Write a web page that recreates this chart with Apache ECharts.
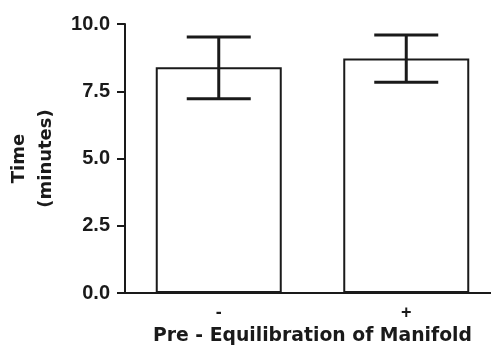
<!DOCTYPE html>
<html>
<head>
<meta charset="utf-8">
<script src="https://cdn.jsdelivr.net/npm/echarts@6/dist/echarts.min.js"></script>
<style>html,body{margin:0;padding:0;background:#fff}#c{width:491px;height:347px}</style>
</head>
<body>
<div id="c"></div>
<script>
var categories = ['-', '+'];
var means = [8.39, 8.72];
var errLow = [7.22, 7.83];
var errHigh = [9.52, 9.59];
var yTicks = [0, 2.5, 5, 7.5, 10];

var FONT = '"Liberation Sans", Arial, sans-serif';
var TFONT = '"DejaVu Sans", sans-serif';
var INK = '#1a1a1a';

var chart = echarts.init(document.getElementById('c'));
chart.setOption({
  animation: false,
  grid: { left: 125, top: 24, width: 375, height: 269, outerBoundsMode: 'none', containLabel: false },
  xAxis: {
    type: 'category',
    data: categories,
    name: 'Pre - Equilibration of Manifold',
    nameLocation: 'middle',
    nameGap: 34,
    nameTextStyle: { fontFamily: TFONT, fontWeight: 'bold', fontSize: 18.8, color: INK },
    axisLine: { lineStyle: { color: INK, width: 2 } },
    axisTick: { alignWithLabel: true, length: 7, lineStyle: { color: INK, width: 2 } },
    axisLabel: { fontFamily: FONT, fontWeight: 'bold', fontSize: 18, color: INK, margin: 11 }
  },
  yAxis: {
    type: 'value',
    min: yTicks[0], max: yTicks[yTicks.length - 1], interval: 2.5,
    name: 'Time\n(minutes)',
    nameLocation: 'middle',
    nameGap: 61,
    nameTextStyle: { fontFamily: TFONT, fontWeight: 'bold', fontSize: 18, color: INK, lineHeight: 27 },
    axisLine: { show: true, onZero: false, lineStyle: { color: INK, width: 2 } },
    axisTick: { show: true, length: 8, lineStyle: { color: INK, width: 2 } },
    splitLine: { show: false },
    axisLabel: { fontFamily: FONT, fontWeight: 'bold', fontSize: 20, color: INK, margin: 15,
      formatter: function (v) { return v.toFixed(1); } }
  },
  series: [
    {
      type: 'bar',
      data: means,
      barWidth: 126,
      itemStyle: { color: '#fff', borderColor: INK, borderWidth: 2 }
    },
    {
      type: 'custom',
      data: categories.map(function (c, i) { return [i, errLow[i], errHigh[i]]; }),
      renderItem: function (params, api) {
        var lo = api.coord([api.value(0), api.value(1)]);
        var hi = api.coord([api.value(0), api.value(2)]);
        var half = 32;
        var st = { stroke: INK, lineWidth: 3 };
        return {
          type: 'group',
          children: [
            { type: 'line', shape: { x1: hi[0], y1: hi[1], x2: lo[0], y2: lo[1] }, style: st },
            { type: 'line', shape: { x1: hi[0] - half, y1: hi[1], x2: hi[0] + half, y2: hi[1] }, style: st },
            { type: 'line', shape: { x1: lo[0] - half, y1: lo[1], x2: lo[0] + half, y2: lo[1] }, style: st }
          ]
        };
      },
      z: 10
    }
  ]
});
</script>
</body>
</html>
